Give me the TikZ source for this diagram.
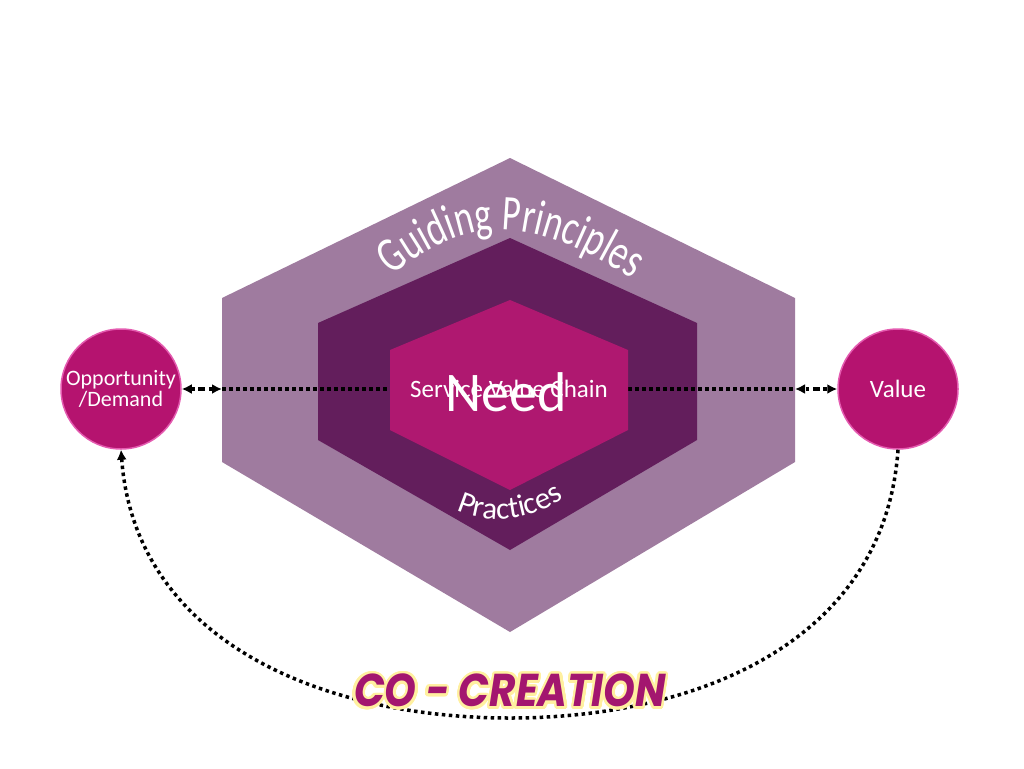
\documentclass[tikz,border=0pt]{standalone}
\usepackage{fontspec}
\setmainfont{Carlito}
\newfontfamily\guidefont{Carlito}[FakeStretch=0.72]
\newfontfamily\cofont{Poppins}[FakeStretch=0.88]
\usepackage{contour}
\contourlength{2.5pt}
\contournumber{32}
\usetikzlibrary{positioning,calc,arrows.meta,decorations.text}
\definecolor{outerhex}{HTML}{9F7B9F}
\definecolor{midhex}{HTML}{631E5C}
\definecolor{innerhex}{HTML}{AF1870}
\definecolor{ballfill}{HTML}{B5136F}
\definecolor{ballrim}{HTML}{E45BB0}
\definecolor{cotext}{HTML}{A3166F}
\definecolor{coglow}{HTML}{FFF0A0}

\begin{document}
\begin{tikzpicture}[x=1pt,y=-1pt]
            \tikzstyle{ball}=[circle, fill=ballfill, draw=ballrim, line width=1.5pt,
            minimum size=120pt, inner sep=0pt, text=white, align=center,
            font=\fontsize{22}{24}\selectfont]
            \tikzstyle{dots}=[line width=3.5pt, dash pattern=on 3.5pt off 3.5pt]
            \tikzstyle{tip}=[-{Latex[length=10pt,width=10pt]}]
            \useasboundingbox (0,0) rectangle (1024,768);
            % hexagons
            \fill[outerhex] (510,158) -- (795,298) -- (795,462) -- (510,632)
                -- (222,462) -- (222,298) -- cycle;
            \fill[midhex] (510,238) -- (697,323) -- (697,440) -- (510,550)
                -- (318,440) -- (318,323) -- cycle;
            \coordinate (hexL) at (222,389);
            \coordinate (hexR) at (795,389);
            \draw[dots] (hexL) -- (hexR);
            \fill[innerhex] (510,300) -- (628,350) -- (628,430) -- (510,490)
                -- (390,430) -- (390,350) -- cycle;
            \node[text=white, font=\fontsize{25}{27}\selectfont] (svc) at (509,389) {Service Value Chain};
            \node[text=white, font=\fontsize{56}{60}\selectfont] (need) at (506,392) {Need};
            \path[decorate, decoration={text along path, text align=center, text color=white,
                text={|\guidefont\fontsize{50}{52}\selectfont|Guiding Principles}}]
                (390,277) .. controls (468,214) and (532,214) .. (634,280);
            \path[decorate, decoration={text along path, text align=center, text color=white,
                text={|\fontsize{31}{33}\selectfont|Practices}}]
                (452,508) .. controls (485,526) and (530,522) .. (568,496);
            % circles
            \node[ball] (opp) at (121,389) {Opportunity\\[-3pt]/Demand};
            \node[ball, font=\fontsize{25}{27}\selectfont] (val) at (898,389) {Value};
            \draw[dots, tip] ($(opp.east)!0.5!(hexL)$) -- (opp.east);
            \draw[dots, tip] ($(opp.east)!0.5!(hexL)$) -- (hexL);
            \draw[dots, tip] ($(hexR)!0.5!(val.west)$) -- (hexR);
            \draw[dots, tip] ($(hexR)!0.5!(val.west)$) -- (val.west);
            \draw[dots, tip] (val.south) .. controls (885,640) and (700,718) .. (510,718)
                .. controls (320,718) and (135,640) .. (opp.south);
            \node[text=cotext, font=\cofont\bfseries\itshape\fontsize{46}{50}\selectfont,
                inner sep=0pt] (co) at (510,692) {\contour{coglow}{CO - CREATION}};
        \end{tikzpicture}
\end{document}
